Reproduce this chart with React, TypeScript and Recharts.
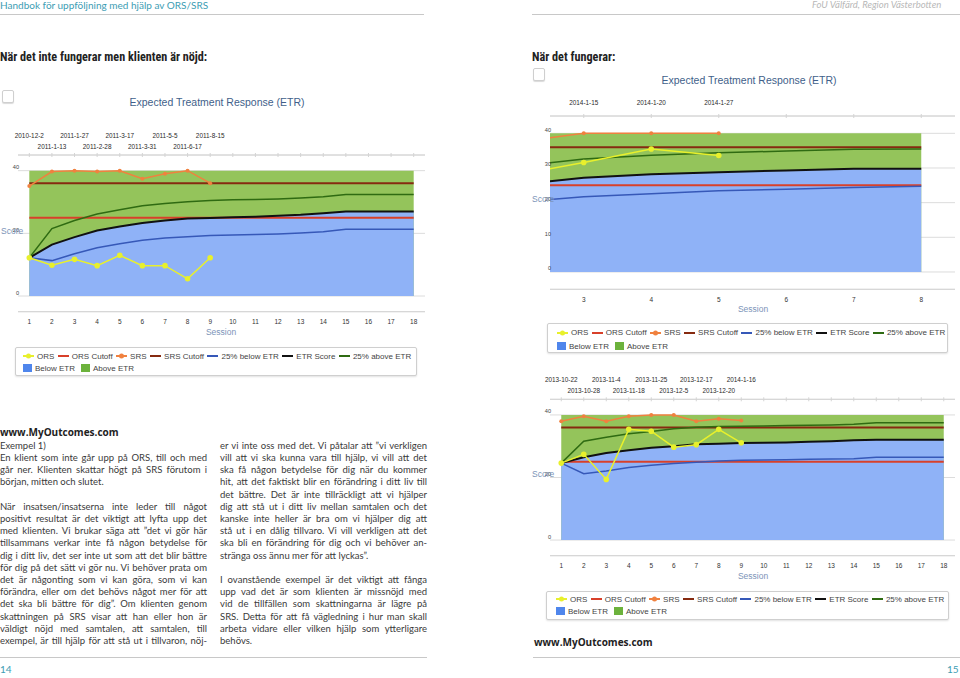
import { ComposedChart, Area, Line, XAxis, YAxis, CartesianGrid } from 'recharts';

// --- chart 1: "När det inte fungerar men klienten är nöjd" ---
const SESSIONS_1 = [1, 2, 3, 4, 5, 6, 7, 8, 9, 10, 11, 12, 13, 14, 15, 16, 17, 18];
const ORS_1 = [12.2, 9.8, 11.7, 9.7, 13.0, 9.7, 9.7, 5.5, 12.2];
const SRS_1 = [35.1, 39.7, 40, 39.7, 40, 37.4, 39.0, 40, 36.0];
const ETR_1 = [12.2, 16.4, 18.8, 20.9, 22.2, 23.3, 24.1, 24.7, 24.9, 25.1, 25.3, 25.6, 25.9, 26.4, 27.0, 27.0, 27.0, 27.0];
const LOW_1 = [12.2, 11.3, 13.5, 15.4, 16.7, 17.8, 18.5, 18.9, 19.3, 19.5, 19.6, 19.8, 20.1, 20.5, 21.3, 21.3, 21.3, 21.3];
const HIGH_1 = [12.2, 21.5, 24.1, 26.2, 27.5, 28.8, 29.5, 30.1, 30.5, 30.7, 30.8, 31.0, 31.3, 31.7, 32.4, 32.4, 32.4, 32.4];
const DATE_SESSIONS_1 = [1, 2, 3, 4, 5, 6, 7, 8, 9];
const DATES_1 = ['2010-12-2', '2011-1-13', '2011-1-27', '2011-2-28', '2011-3-17', '2011-3-31', '2011-5-5', '2011-6-17', '2011-8-15'];

// --- chart 2: "När det fungerar" (zoomed on sessions 3-8) ---
const SESSIONS_2 = [2, 3, 4, 5, 6, 7, 8];
const ORS_2 = [28.0, 31.6, 35.5, 33.6];
const SRS_2 = [37.4, 40, 40, 40];
const ETR_2 = [25.2, 27.2, 28.2, 28.8, 29.3, 29.8, 29.8];
const LOW_2 = [20.1, 21.7, 22.6, 23.4, 23.9, 24.4, 24.7];
const HIGH_2 = [30.4, 32.6, 33.7, 34.4, 34.9, 35.4, 35.5];
const DATE_SESSIONS_2 = [3, 4, 5];
const DATES_2 = ['2014-1-15', '2014-1-20', '2014-1-27'];

// --- chart 3 ---
const SESSIONS_3 = [1, 2, 3, 4, 5, 6, 7, 8, 9, 10, 11, 12, 13, 14, 15, 16, 17, 18];
const ORS_3 = [24.6, 27.4, 19.4, 35.4, 34.8, 29.7, 30.5, 35.4, 31.1];
const SRS_3 = [38.0, 39.6, 38.0, 39.6, 40, 40, 38.0, 38.8, 38.2];
const ETR_3 = [24.6, 26.5, 27.8, 28.7, 29.5, 30.0, 30.6, 30.8, 31.0, 31.1, 31.2, 31.4, 31.6, 31.9, 32.1, 32.1, 32.1, 32.1];
const LOW_3 = [24.6, 21.2, 22.1, 23.2, 23.9, 24.5, 24.9, 25.3, 25.5, 25.6, 25.7, 25.8, 25.9, 26.0, 26.5, 26.5, 26.5, 26.5];
const HIGH_3 = [24.6, 31.6, 32.9, 34.0, 34.7, 35.6, 36.1, 36.3, 36.4, 36.5, 36.6, 36.7, 36.8, 37.0, 37.5, 37.5, 37.5, 37.5];
const DATE_SESSIONS_3 = [1, 2, 3, 4, 5, 6, 7, 8, 9];
const DATES_3 = ['2013-10-22', '2013-10-28', '2013-11-4', '2013-11-18', '2013-11-25', '2013-12-5', '2013-12-17', '2013-12-20', '2014-1-16'];

const ORS_CUTOFF = 25;
const SRS_CUTOFF = 36;
const SCORE_MAX = 40;

const LEFT_LINES = [
  'Exempel 1)',
  'En klient som inte går upp på ORS, till och med',
  'går ner. Klienten skattar högt på SRS förutom i',
  'början, mitten och slutet.',
  '',
  'När insatsen/insatserna inte leder till något',
  'positivt resultat är det viktigt att lyfta upp det',
  'med klienten. Vi brukar säga att ”det vi gör här',
  'tillsammans verkar inte få någon betydelse för',
  'dig i ditt liv, det ser inte ut som att det blir bättre',
  'för dig på det sätt vi gör nu. Vi behöver prata om',
  'det är någonting som vi kan göra, som vi kan',
  'förändra, eller om det behövs något mer för att',
  'det ska bli bättre för dig”. Om klienten genom',
  'skattningen på SRS visar att han eller hon är',
  'väldigt nöjd med samtalen, att samtalen, till',
  'exempel, är till hjälp för att stå ut i tillvaron, nöj-',
];
const LEFT_LAST = [0, 3];

const RIGHT_LINES = [
  'er vi inte oss med det. Vi påtalar att ”vi verkligen',
  'vill att vi ska kunna vara till hjälp, vi vill att det',
  'ska få någon betydelse för dig när du kommer',
  'hit, att det faktiskt blir en förändring i ditt liv till',
  'det bättre. Det är inte tillräckligt att vi hjälper',
  'dig att stå ut i ditt liv mellan samtalen och det',
  'kanske inte heller är bra om vi hjälper dig att',
  'stå ut i en dålig tillvaro. Vi vill verkligen att det',
  'ska bli en förändring för dig och vi behöver an-',
  'stränga oss ännu mer för att lyckas”.',
  '',
  'I ovanstående exempel är det viktigt att fånga',
  'upp vad det är som klienten är missnöjd med',
  'vid de tillfällen som skattningarna är lägre på',
  'SRS. Detta för att få vägledning i hur man skall',
  'arbeta vidare eller vilken hjälp som ytterligare',
  'behövs.',
];
const RIGHT_LAST = [9, 16];

const C = {
  ors: '#e8f02c',
  orsCut: '#d8402a',
  srs: '#f0813f',
  srsCut: '#862a10',
  low: '#3658b8',
  etr: '#111111',
  high: '#2f6b12',
  belowFill: '#8fb2f7',
  aboveFill: '#94c45b',
  belowSwatch: '#4f86ec',
  aboveSwatch: '#6cb23c',
};

const LEGEND_LINES = [
  { name: 'ORS', color: C.ors, dot: true },
  { name: 'ORS Cutoff', color: C.orsCut, dot: false },
  { name: 'SRS', color: C.srs, dot: true },
  { name: 'SRS Cutoff', color: C.srsCut, dot: false },
  { name: '25% below ETR', color: C.low, dot: false },
  { name: 'ETR Score', color: C.etr, dot: false },
  { name: '25% above ETR', color: C.high, dot: false },
];
const LEGEND_AREAS = [
  { name: 'Below ETR', color: C.belowSwatch },
  { name: 'Above ETR', color: C.aboveSwatch },
];

const CHART_FONT = "'Liberation Sans', Arial, sans-serif";

function buildRows(sessions: number[], ors: number[], srs: number[], etr: number[], low: number[], high: number[]) {
  return sessions.map((s, i) => ({
    session: s,
    ors: ors[i],
    srs: srs[i],
    etr: etr[i],
    low: low[i],
    high: high[i],
    orsCut: ORS_CUTOFF,
    srsCut: SRS_CUTOFF,
    top: SCORE_MAX,
  }));
}

type EtrProps = {
  data: any[];
  left: number;
  top: number;
  width: number;
  height: number;
  // plot box inside the chart
  plot: { x: number; y: number; w: number; h: number };
  xDomain: [number, number];
  xTicks: number[];
  yTicks: number[];
  dateSessions: number[];
  dates: string[];
  stagger: boolean;
};

function EtrChart(p: EtrProps) {
  const dateFor = (s: number) => {
    const i = p.dateSessions.indexOf(s);
    return i >= 0 ? p.dates[i] : '';
  };
  const TopTick = (t: any) => {
    const s = t.payload.value;
    const label = dateFor(s);
    const dy = p.stagger ? (s % 2 === 1 ? -19.5 : -8.8) : -13.3;
    return (
      <g>
        <line x1={t.x} x2={t.x} y1={t.y - 2} y2={t.y + 2} stroke="#d4d4d4" />
        {label && (
          <text x={t.x} y={t.y + dy} textAnchor="middle" dominantBaseline="central" fontSize={6.4} fill="#2a2a2a" fontFamily={CHART_FONT}>
            {label}
          </text>
        )}
      </g>
    );
  };
  const BottomTick = (t: any) => (
    <text x={t.x} y={t.y + 10} textAnchor="middle" dominantBaseline="central" fontSize={6.5} fill="#333" fontFamily={CHART_FONT}>
      {t.payload.value}
    </text>
  );
  const LeftTick = (t: any) => (
    <text x={t.x + 1} y={t.y - 3.5} textAnchor="end" dominantBaseline="central" fontSize={5.6} fill="#444" fontFamily={CHART_FONT}>
      {t.payload.value}
    </text>
  );
  // axes take 1px each (a zero-sized axis is not drawn), so the margins leave that pixel out
  const margin = {
    top: p.plot.y - 1,
    left: p.plot.x - 1,
    right: p.width - p.plot.x - p.plot.w,
    bottom: p.height - p.plot.y - p.plot.h - 1,
  };
  return (
    <div style={{ position: 'absolute', left: p.left, top: p.top }}>
      <ComposedChart width={p.width} height={p.height} data={p.data} margin={margin}>
        <CartesianGrid vertical={false} stroke="#dcdcdc" />
        <XAxis
          dataKey="session"
          type="number"
          domain={p.xDomain}
          ticks={p.xTicks}
          allowDataOverflow
          height={1}
          tickLine={false}
          tickSize={0}
          tickMargin={0}
          axisLine={{ stroke: '#d4d4d4' }}
          tick={BottomTick}
          interval={0}
        />
        <XAxis
          xAxisId="top"
          orientation="top"
          dataKey="session"
          type="number"
          domain={p.xDomain}
          ticks={p.xTicks}
          allowDataOverflow
          height={1}
          tickLine={false}
          tickSize={0}
          tickMargin={0}
          axisLine={{ stroke: '#d4d4d4' }}
          tick={TopTick}
          interval={0}
        />
        <YAxis
          type="number"
          domain={[-5, 45]}
          ticks={p.yTicks}
          allowDataOverflow
          width={1}
          axisLine={false}
          tickLine={false}
          tickSize={0}
          tickMargin={0}
          tick={LeftTick}
          interval={0}
        />
        <Area dataKey="top" type="linear" stroke="none" fill={C.aboveFill} fillOpacity={1} baseValue={0} isAnimationActive={false} />
        <Area dataKey="etr" type="linear" stroke="none" fill={C.belowFill} fillOpacity={1} baseValue={0} isAnimationActive={false} />
        <Line xAxisId="top" dataKey="etr" stroke="none" dot={false} activeDot={false} legendType="none" isAnimationActive={false} />
        <Line dataKey="orsCut" stroke={C.orsCut} strokeWidth={2} dot={false} activeDot={false} isAnimationActive={false} />
        <Line dataKey="srsCut" stroke={C.srsCut} strokeWidth={2} dot={false} activeDot={false} isAnimationActive={false} />
        <Line dataKey="low" stroke={C.low} strokeWidth={1.5} dot={false} activeDot={false} isAnimationActive={false} />
        <Line dataKey="etr" stroke={C.etr} strokeWidth={2} dot={false} activeDot={false} isAnimationActive={false} />
        <Line dataKey="high" stroke={C.high} strokeWidth={1.5} dot={false} activeDot={false} isAnimationActive={false} />
        <Line dataKey="srs" stroke={C.srs} strokeWidth={1.5} dot={{ r: 2, fill: C.srs, stroke: C.srs, strokeWidth: 0 }} activeDot={false} isAnimationActive={false} />
        <Line dataKey="ors" stroke={C.ors} strokeWidth={1.5} dot={{ r: 2.8, fill: C.ors, stroke: C.ors, strokeWidth: 0 }} activeDot={false} isAnimationActive={false} />
      </ComposedChart>
    </div>
  );
}

function LegendBox({ left, top, width, height, row1, row2, pad }: { left: number; top: number; width: number; height: number; row1: number; row2: number; pad: number }) {
  return (
    <div
      style={{
        position: 'absolute', left, top, width, height, boxSizing: 'border-box',
        border: '1px solid #cfcfcf', borderRadius: 2, boxShadow: '0 1px 2px rgba(0,0,0,0.12)',
        background: '#fff', fontFamily: CHART_FONT, fontSize: 8, color: '#444',
      }}
    >
      <div style={{ position: 'absolute', left: pad, top: row1 - 5, height: 10, display: 'flex', alignItems: 'center', whiteSpace: 'nowrap' }}>
        {LEGEND_LINES.map((it) => (
          <span key={it.name} style={{ display: 'flex', alignItems: 'center', marginRight: 3.5 }}>
            <svg width={11} height={8}>
              <line x1={0} x2={11} y1={4} y2={4} stroke={it.color} strokeWidth={2} />
              {it.dot && <circle cx={5.5} cy={4} r={2.5} fill={it.color} />}
            </svg>
            <span style={{ marginLeft: 3 }}>{it.name}</span>
          </span>
        ))}
      </div>
      <div style={{ position: 'absolute', left: pad, top: row2 - 5, height: 10, display: 'flex', alignItems: 'center', whiteSpace: 'nowrap' }}>
        {LEGEND_AREAS.map((it) => (
          <span key={it.name} style={{ display: 'flex', alignItems: 'center', marginRight: 6 }}>
            <span style={{ width: 9, height: 8, background: it.color, display: 'inline-block' }} />
            <span style={{ marginLeft: 3 }}>{it.name}</span>
          </span>
        ))}
      </div>
    </div>
  );
}

function Txt({ x, y, size, color, children, style }: any) {
  return (
    <div style={{ position: 'absolute', left: x, top: y - size * 0.6, fontSize: size, lineHeight: `${size * 1.2}px`, color, whiteSpace: 'nowrap', ...style }}>
      {children}
    </div>
  );
}

function Checkbox({ x, y }: { x: number; y: number }) {
  return (
    <div style={{ position: 'absolute', left: x, top: y, width: 10, height: 11, border: '1px solid #cfcfcf', borderRadius: 2, boxShadow: '0 1px 1px rgba(0,0,0,0.15)', background: '#fff' }} />
  );
}

function Column({ x, y, width, lines, lastLines }: { x: number; y: number; width: number; lines: string[]; lastLines: number[] }) {
  return (
    <div style={{ position: 'absolute', left: x, top: y - 6.1, width, fontFamily: 'Lato, sans-serif', fontSize: 9.5, color: '#3a3a3a' }}>
      {lines.map((l, i) => (
        <div
          key={i}
          style={{
            height: 12.2, lineHeight: '12.2px', whiteSpace: 'nowrap',
            textAlign: 'justify', textAlignLast: lastLines.includes(i) ? 'left' : 'justify',
          }}
        >
          {l || '\u00a0'}
        </div>
      ))}
    </div>
  );
}

export default function App() {
  const rows1 = buildRows(SESSIONS_1, ORS_1, SRS_1, ETR_1, LOW_1, HIGH_1);
  const rows2 = buildRows(SESSIONS_2, ORS_2, SRS_2, ETR_2, LOW_2, HIGH_2);
  const rows3 = buildRows(SESSIONS_3, ORS_3, SRS_3, ETR_3, LOW_3, HIGH_3);
  const heading = { fontFamily: "'Liberation Sans Narrow', Roboto, sans-serif", fontWeight: 700, fontStretch: 'condensed' };
  const titleStyle = { fontFamily: CHART_FONT, transform: 'translateX(-50%)' };
  const axisTitle = { fontFamily: CHART_FONT };
  const bold = { fontFamily: "'Open Sans', sans-serif", fontWeight: 700 };

  return (
    <div style={{ position: 'absolute', left: 0, top: 0, width: 960, height: 678, overflow: 'hidden', background: '#fff', fontFamily: 'Lato, sans-serif' }}>
      {/* page header */}
      <Txt x={0} y={5} size={10} color="#3c9db3">Handbok för uppföljning med hjälp av ORS/SRS</Txt>
      <Txt x={812} y={5} size={9.5} color="#b8b8b8" style={{ fontStyle: 'italic' }}>FoU Välfärd, Region Västerbotten</Txt>
      <div style={{ position: 'absolute', left: 0, top: 14, width: 424, height: 1, background: '#c8c8c8' }} />
      <div style={{ position: 'absolute', left: 532, top: 14, width: 428, height: 1, background: '#c8c8c8' }} />

      <Txt x={0} y={57} size={12.2} color="#222" style={heading}>När det inte fungerar men klienten är nöjd:</Txt>
      <Txt x={532} y={57} size={12.2} color="#222" style={heading}>När det fungerar:</Txt>

      {/* chart 1 */}
      <Checkbox x={2} y={90} />
      <Txt x={217} y={102.7} size={10.5} color="#3f5f8a" style={titleStyle}>Expected Treatment Response (ETR)</Txt>
      <EtrChart
        data={rows1} left={0} top={110} width={440} height={225}
        plot={{ x: 18, y: 45, w: 407, h: 156.7 }}
        xDomain={[0.5, 18.5]} xTicks={SESSIONS_1} yTicks={[0, 20, 40]}
        dateSessions={DATE_SESSIONS_1} dates={DATES_1} stagger
      />
      <Txt x={1} y={231} size={8.5} color="#7b93b8" style={axisTitle}>Score</Txt>
      <Txt x={221} y={332} size={8.5} color="#7b93b8" style={{ ...axisTitle, transform: 'translateX(-50%)' }}>Session</Txt>
      <LegendBox left={15} top={347} width={402} height={29} row1={8} row2={20.3} pad={7} />

      {/* chart 2 */}
      <Checkbox x={533} y={68} />
      <Txt x={749} y={80} size={10.5} color="#3f5f8a" style={titleStyle}>Expected Treatment Response (ETR)</Txt>
      <EtrChart
        data={rows2} left={530} top={90} width={430} height={225}
        plot={{ x: 20, y: 26, w: 405, h: 173.3 }}
        xDomain={[2.5, 8.5]} xTicks={[3, 4, 5, 6, 7, 8]} yTicks={[0, 10, 20, 30, 40]}
        dateSessions={DATE_SESSIONS_2} dates={DATES_2} stagger={false}
      />
      <Txt x={532} y={199.5} size={8.5} color="#7b93b8" style={axisTitle}>Score</Txt>
      <Txt x={753} y={309.3} size={8.5} color="#7b93b8" style={{ ...axisTitle, transform: 'translateX(-50%)' }}>Session</Txt>
      <LegendBox left={547} top={323} width={401} height={30} row1={8.7} row2={22.2} pad={9} />

      {/* chart 3 */}
      <EtrChart
        data={rows3} left={530} top={365} width={430} height={220}
        plot={{ x: 20, y: 34.3, w: 405, h: 156.4 }}
        xDomain={[0.5, 18.5]} xTicks={SESSIONS_3} yTicks={[0, 20, 40]}
        dateSessions={DATE_SESSIONS_3} dates={DATES_3} stagger
      />
      <Txt x={532} y={474.5} size={8.5} color="#7b93b8" style={axisTitle}>Score</Txt>
      <Txt x={753} y={576} size={8.5} color="#7b93b8" style={{ ...axisTitle, transform: 'translateX(-50%)' }}>Session</Txt>
      <LegendBox left={546} top={591} width={403} height={29} row1={7} row2={19} pad={9} />

      {/* text */}
      <Txt x={0} y={431.5} size={10} color="#222" style={bold}>www.MyOutcomes.com</Txt>
      <Column x={0} y={446} width={207} lines={LEFT_LINES} lastLines={LEFT_LAST} />
      <Column x={220} y={446} width={207} lines={RIGHT_LINES} lastLines={RIGHT_LAST} />
      <Txt x={534} y={641.5} size={10} color="#222" style={bold}>www.MyOutcomes.com</Txt>

      {/* footer */}
      <div style={{ position: 'absolute', left: 0, top: 657, width: 427, height: 1, background: '#c8c8c8' }} />
      <div style={{ position: 'absolute', left: 533, top: 657, width: 427, height: 1, background: '#c8c8c8' }} />
      <Txt x={0} y={669} size={10} color="#3c9db3">14</Txt>
      <Txt x={947} y={669} size={10} color="#3c9db3">15</Txt>
    </div>
  );
}
